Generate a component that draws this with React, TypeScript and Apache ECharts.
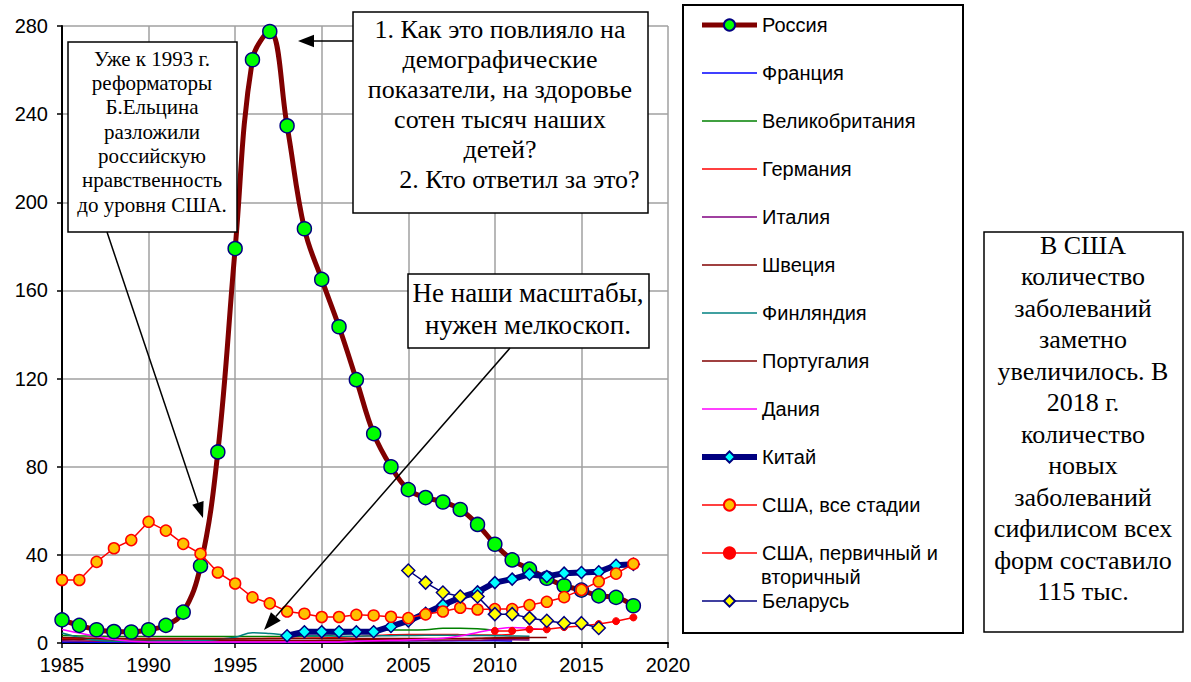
import React, { useEffect, useRef } from "react";
import * as echarts from "echarts";

const years = [1985, 1986, 1987, 1988, 1989, 1990, 1991, 1992, 1993, 1994, 1995, 1996, 1997, 1998, 1999, 2000, 2001, 2002, 2003, 2004, 2005, 2006, 2007, 2008, 2009, 2010, 2011, 2012, 2013, 2014, 2015, 2016, 2017, 2018];

const russia = [10.5, 8, 6, 5.2, 5, 6, 8, 14, 35, 86.7, 179, 264.7, 277.5, 234.7, 188, 165, 143.5, 119.5, 95, 80, 69.6, 66, 64, 60.6, 53.8, 44.8, 37.7, 33.5, 29.4, 26, 24, 21.4, 20.7, 16.9];
const usaAll = [28.6, 28.6, 36.8, 43, 46.7, 55, 51, 45, 40.5, 32, 27, 20.7, 18, 14.3, 13.3, 11.8, 11.8, 12.8, 12.5, 11.9, 11.3, 13, 14.3, 16, 15.2, 15.4, 15.4, 17.2, 18.7, 20.8, 24.1, 27.9, 31.5, 35.9];

const usaPSYears = [2010, 2011, 2012, 2013, 2014, 2015, 2016, 2017, 2018];
const usaPS = [5.5, 5.5, 6.2, 6.2, 7.2, 7.7, 8.6, 9.9, 11.6];

const chinaYears = [1998, 1999, 2000, 2001, 2002, 2003, 2004, 2005, 2006, 2007, 2008, 2009, 2010, 2011, 2012, 2013, 2014, 2015, 2016, 2017, 2018];
const china = [3.3, 5.1, 5.1, 5.1, 5.1, 5.1, 7.5, 10, 13.5, 17.2, 20.7, 23.2, 27.4, 29, 31.2, 30.2, 31.7, 32, 32.3, 35.3, 35.7];

const belarusYears = [2005, 2006, 2007, 2008, 2009, 2010, 2011, 2012, 2013, 2014, 2015, 2016];
const belarus = [32.9, 27.4, 22.9, 21.1, 21.1, 13.1, 13.1, 11.3, 10.1, 9.0, 9.0, 6.8];

const france = [0.4, 0.4, 0.3, 0.3, 0.3, 0.3, 0.2, 0.2, 0.2, 0.2, 0.2, 0.2, 0.2, 0.2, 0.3, 0.4, 0.6, 0.8, 0.9, 1.0, 1.0, 1.1, 1.0, 1.0, 1.0, 1.0, 0.9];
const uk = [3.4, 3.2, 3.1, 3.0, 3.0, 3.0, 2.9, 2.9, 2.9, 2.9, 2.9, 2.9, 3.0, 3.0, 3.1, 3.3, 3.8, 4.6, 5.5, 5.9, 5.9, 6.0, 6.7, 6.7, 6.5, 5.8];
const germany = [2.2, 2.1, 2.0, 2.0, 2.0, 2.0, 2.0, 2.0, 2.0, 2.0, 2.0, 2.0, 2.1, 2.1, 2.2, 2.3, 2.6, 3.0, 3.4, 3.7, 3.9, 3.9, 3.9, 3.8, 3.6, 3.6, 3.9];
const italy = [1.0, 0.9, 0.8, 0.7, 0.6, 0.5, 0.5, 0.5, 0.5, 0.5, 0.5, 0.5, 0.5, 0.5, 0.5, 0.5, 0.6, 0.7, 0.8, 0.9, 1.0, 1.0, 1.1, 1.2, 1.3, 1.5, 1.5, 1.4];
const sweden = [1.6, 1.5, 1.4, 1.3, 1.2, 1.2, 1.1, 1.1, 1.1, 1.1, 1.1, 1.1, 1.1, 1.1, 1.1, 1.2, 1.3, 1.5, 1.6, 1.7, 1.8, 1.8, 1.9, 1.9, 2.0, 2.1, 2.1, 2.0];
const finland = [4.5, 2.5, 1.2, 0.8, 0.8, 0.8, 0.9, 1.0, 1.2, 1.6, 2.6, 4.7, 4.3, 3.6, 3.3, 3.2, 3.1, 3.1, 3.2, 3.3, 3.4, 3.5, 3.5, 3.5, 3.4, 3.3, 3.2, 3.1];
const portugal = [2.5, 2.3, 2.1, 2.0, 1.9, 1.8, 1.8, 1.8, 1.8, 1.8, 1.8, 1.9, 1.9, 2.0, 2.0, 2.0, 2.0, 2.0, 2.0, 2.0, 2.0, 2.0, 2.0, 2.0, 2.1, 2.4, 2.5, 2.5, 2.5];
const denmark = [6.1, 4.5, 3.0, 1.6, 0.8, 0.5, 0.4, 0.4, 0.4, 0.4, 0.4, 0.4, 0.4, 0.4, 0.4, 0.4, 0.5, 0.8, 1.0, 1.2, 1.4, 1.7, 2.2, 3.2, 4.8, 6.2, 7.0, 6.6, 6.0];

const yTicks = { min: 0, max: 280, interval: 40 };
const xTicks = { min: 1985, max: 2020, interval: 5 };

const note1 = ["Уже к 1993 г.", "реформаторы", "Б.Ельцина", "разложили", "российскую", "нравственность", "до уровня США."];
const note2 = ["1. Как это повлияло на", "демографические", "показатели, на здоровье", "сотен тысяч наших", "детей?", "      2. Кто ответил за это?"];
const note3 = ["Не наши масштабы,", "нужен мелкоскоп."];
const note4 = ["В США", "количество", "заболеваний", "заметно", "увеличилось. В", "2018 г.", "количество", "новых", "заболеваний", "сифилисом всех", "форм составило", "115 тыс."];

const PS_NAME = "США, первичный и вторичный";

function zip(xs: number[], ys: number[]) {
  return ys.map((v, i) => [xs[i], v]);
}

function thin(name: string, color: string, vals: number[]) {
  return {
    name,
    type: "line",
    data: zip(years, vals),
    smooth: 0.4,
    symbol: "none",
    lineStyle: { color, width: 1.5 },
    itemStyle: { color },
    z: 2,
  };
}

function noteBox(x: number, y: number, w: number, h: number, lines: string[], cx: number, cy: number, size: number, lh: number) {
  return {
    type: "group",
    z: 100,
    children: [
      { type: "rect", z: 100, shape: { x, y, width: w, height: h }, style: { fill: "#fff", stroke: "#000", lineWidth: 1.5 } },
      {
        type: "text",
        z: 101,
        x: cx,
        y: cy,
        style: {
          text: lines.join("\n"),
          font: `${size}px "Liberation Serif", "Times New Roman", serif`,
          fill: "#000",
          align: "center",
          verticalAlign: "middle",
          textAlign: "center",
          textVerticalAlign: "middle",
          lineHeight: lh,
        },
      },
    ],
  };
}

function arrow(x1: number, y1: number, tx: number, ty: number, len: number, half: number) {
  const dx = tx - x1;
  const dy = ty - y1;
  const d = Math.sqrt(dx * dx + dy * dy);
  const ux = dx / d;
  const uy = dy / d;
  const bx = tx - ux * len;
  const by = ty - uy * len;
  const px = -uy;
  const py = ux;
  return [
    { type: "line", z: 100, shape: { x1, y1, x2: bx, y2: by }, style: { stroke: "#000", lineWidth: 1.5 } },
    {
      type: "polygon",
      z: 100,
      shape: { points: [[tx, ty], [bx + px * half, by + py * half], [bx - px * half, by - py * half]] },
      style: { fill: "#000" },
    },
  ];
}

const hidden = { color: "rgba(0,0,0,0)", borderColor: "rgba(0,0,0,0)", borderWidth: 0, opacity: 0 };

export default function App() {
  const ref = useRef<HTMLDivElement>(null);
  useEffect(() => {
    if (!ref.current) return;
    const chart = echarts.init(ref.current, undefined, { renderer: "svg" });
    const axisFont = { fontSize: 20, color: "#000", fontFamily: '"Liberation Sans", Arial, sans-serif' };
    const option: any = {
      animation: false,
      backgroundColor: "#fff",
      grid: { left: 62, top: 26, width: 606, height: 617, containLabel: false },
      xAxis: {
        type: "value",
        ...xTicks,
        axisLine: { show: true, lineStyle: { color: "#000", width: 2 } },
        axisTick: { show: true, inside: false, length: 5, lineStyle: { color: "#000", width: 1.5 } },
        axisLabel: { ...axisFont, margin: 12, formatter: (v: number) => String(v) },
        splitLine: { show: true, lineStyle: { color: "#a0a0a0", width: 1.5 } },
      },
      yAxis: {
        type: "value",
        ...yTicks,
        axisLine: { show: true, lineStyle: { color: "#000", width: 2 } },
        axisTick: { show: true, inside: false, length: 5, lineStyle: { color: "#000", width: 1.5 } },
        axisLabel: { ...axisFont, margin: 14 },
        splitLine: { show: true, lineStyle: { color: "#a0a0a0", width: 1.5 } },
      },
      legend: {
        orient: "vertical",
        left: 694,
        top: 10,
        itemWidth: 55,
        itemHeight: 14,
        itemGap: 28,
        selectedMode: false,
        lineStyle: { width: "inherit" },
        textStyle: { fontSize: 20, lineHeight: 20, color: "#000", fontFamily: '"Liberation Sans", Arial, sans-serif' },
        formatter: (name: string) => (name === PS_NAME ? "США, первичный и" : name),
        data: [
          { name: "Россия" },
          { name: "Франция", itemStyle: hidden },
          { name: "Великобритания", itemStyle: hidden },
          { name: "Германия", itemStyle: hidden },
          { name: "Италия", itemStyle: hidden },
          { name: "Швеция", itemStyle: hidden },
          { name: "Финляндия", itemStyle: hidden },
          { name: "Португалия", itemStyle: hidden },
          { name: "Дания", itemStyle: hidden },
          { name: "Китай" },
          { name: "США, все стадии" },
          { name: PS_NAME },
          { name: "Беларусь" },
        ],
      },
      graphic: [
        { type: "rect", z: 0, shape: { x: 683, y: 5, width: 280, height: 628 }, style: { fill: "none", stroke: "#000", lineWidth: 2 } },
        {
          type: "text",
          z: 10,
          x: 761,
          y: 577,
          style: {
            text: "вторичный",
            font: '20px "Liberation Sans", Arial, sans-serif',
            fill: "#000",
            verticalAlign: "middle",
            textVerticalAlign: "middle",
          },
        },
        noteBox(68, 42, 169, 190, note1, 152, 131.7, 21, 24.4),
        noteBox(353, 12, 295, 201, note2, 500, 104.3, 26, 29.9),
        noteBox(408, 274, 241, 74, note3, 528, 309, 27, 31.7),
        noteBox(984, 232, 199, 400, note4, 1083, 418.3, 26, 31.5),
        ...arrow(107, 232, 203, 518, 16, 6),
        ...arrow(510, 348, 264, 630, 18, 6.5),
        ...arrow(353, 41, 298, 41, 16, 6.3),
      ],
      series: [
        {
          name: "Россия",
          type: "line",
          data: zip(years, russia),
          smooth: 0.4,
          symbol: "circle",
          symbolSize: 14,
          lineStyle: { color: "#800000", width: 5 },
          itemStyle: { color: "#00ff00", borderColor: "#000080", borderWidth: 1.5 },
          z: 3,
        },
        thin("Франция", "#0000ff", france),
        thin("Великобритания", "#008000", uk),
        thin("Германия", "#ff0000", germany),
        thin("Италия", "#800080", italy),
        thin("Швеция", "#800000", sweden),
        thin("Финляндия", "#008080", finland),
        thin("Португалия", "#800000", portugal),
        thin("Дания", "#ff00ff", denmark),
        {
          name: "Китай",
          type: "line",
          data: zip(chinaYears, china),
          symbol: "diamond",
          symbolSize: 12,
          lineStyle: { color: "#000080", width: 6 },
          itemStyle: { color: "#00ffff", borderColor: "#000080", borderWidth: 1.5 },
          z: 4,
        },
        {
          name: "США, все стадии",
          type: "line",
          data: zip(years, usaAll),
          symbol: "circle",
          symbolSize: 11,
          lineStyle: { color: "#ff0000", width: 1.5 },
          itemStyle: { color: "#ffc000", borderColor: "#ff0000", borderWidth: 1.5 },
          z: 5,
        },
        {
          name: PS_NAME,
          type: "line",
          data: zip(usaPSYears, usaPS),
          symbol: "circle",
          symbolSize: 7,
          lineStyle: { color: "#ff0000", width: 1.5 },
          itemStyle: { color: "#ff0000", borderColor: "#ff0000", borderWidth: 1 },
          z: 5,
        },
        {
          name: "Беларусь",
          type: "line",
          data: zip(belarusYears, belarus),
          symbol: "diamond",
          symbolSize: 13,
          lineStyle: { color: "#000080", width: 1.5 },
          itemStyle: { color: "#ffff00", borderColor: "#000080", borderWidth: 1.5 },
          z: 6,
        },
      ],
    };
    chart.setOption(option);
    return () => chart.dispose();
  }, []);
  return <div ref={ref} style={{ position: "absolute", left: 0, top: 0, width: 1191, height: 682 }} />;
}
